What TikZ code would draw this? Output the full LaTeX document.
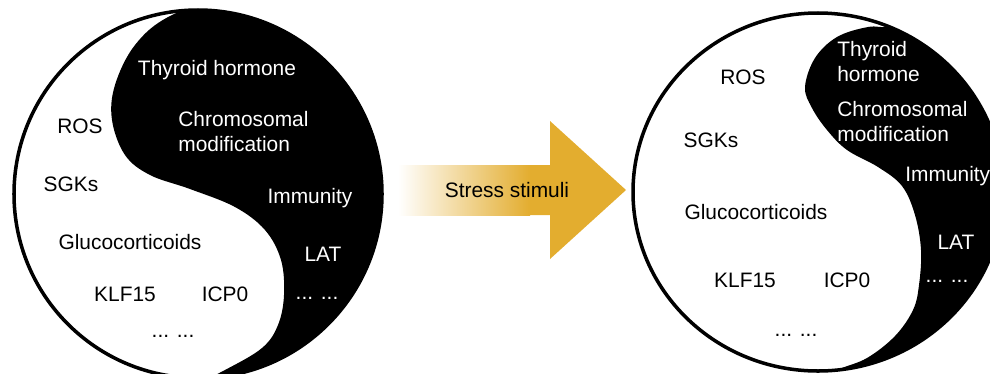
\documentclass[tikz,border=0pt]{standalone}
\usepackage{fontspec}
\setmainfont{Liberation Sans}
\usetikzlibrary{calc}
\newcommand*{\xMax}{990}
\newcommand*{\yMax}{373}
\definecolor{stress}{RGB}{227,173,47}
\tikzset{
	lbl/.style={font=\fontsize{11.9}{14.2}\selectfont,inner sep=0pt,text depth=0pt},
	onblack/.style={lbl,text=white},
	onwhite/.style={lbl,text=black},
	twoline/.style={align=left,anchor=west},
	rim/.style={line width=2pt,draw=black}
}
\begin{document}
\begin{tikzpicture}[x=0.02cm,y=-0.02cm]
%	\draw[step=50,gray,very thin,opacity=0.2] (0,0) grid (\xMax,\yMax);
\useasboundingbox (0,0) rectangle (\xMax,\yMax);

% left yin-yang
\begin{scope}
	\clip (198,194) circle (184);
	\fill[black] plot[smooth,tension=0.6] coordinates {(240,-10) (170,16) (135,45) (115,85) (112,120) (125,155) (150,175) (190,189) (235,207) (265,230) (281,260) (284,295) (278,325) (262,348) (225,370) (180,392)} -- (400,395) -- (400,-10) -- cycle;
\end{scope}
\draw[rim] (198,194) circle (184);

% right yin-yang
\begin{scope}
	\clip (818,192) ellipse [x radius=185,y radius=179];
	\fill[black] plot[smooth,tension=0.6] coordinates {(960,10) (895,26) (868,27) (837,37) (815,58) (805,87) (812,108) (827,130) (847,150) (878,167) (902,186) (915,215) (921,250) (919,285) (913,310) (895,336) (867,358) (837,370) (800,388)} -- (1010,390) -- (1010,0) -- cycle;
\end{scope}
\draw[rim] (818,192) ellipse [x radius=185,y radius=179];

% arrow
\fill[stress] (398,165) -- (550,165) -- (550,121) -- (626,190) -- (550,259) -- (550,215) -- (398,215) -- cycle;
\shade[left color=white,right color=stress] (398,165) rectangle (530,215);
\node[onwhite] (stim) at (507,190) {Stress stimuli};

% left labels
\node[onblack] (thyL) at (217,68) {Thyroid hormone};
\node[onblack,twoline] (chrL) at (178,131) {Chromosomal\\modification};
\node[onblack] (immL) at (310,196) {Immunity};
\node[onblack] (latL) at (323,254) {LAT};
\node[onblack] (etcLa) at (317,298) {... ...};
\node[onwhite] (rosL) at (80,126) {ROS};
\node[onwhite] (sgkL) at (71,184) {SGKs};
\node[onwhite] (gluL) at (130,242) {Glucocorticoids};
\node[onwhite] (klfL) at (125,294) {KLF15};
\node[onwhite] (icpL) at (225,294) {ICP0};
\node[onwhite] (etcLb) at (173,336) {... ...};

% right labels
\node[onblack,twoline] (thyR) at (837,61) {Thyroid\\hormone};
\node[onblack,twoline] (chrR) at (837,121) {Chromosomal\\modification};
\node[onblack,anchor=west] (immR) at (905,174) {Immunity};
\node[onblack] (latR) at (956,242) {LAT};
\node[onblack] (etcRa) at (947,281) {... ...};
\node[onwhite] (rosR) at (743,77) {ROS};
\node[onwhite] (sgkR) at (711,140) {SGKs};
\node[onwhite] (gluR) at (756,212) {Glucocorticoids};
\node[onwhite] (klfR) at (745,280) {KLF15};
\node[onwhite] (icpR) at (847,280) {ICP0};
\node[onwhite] (etcRb) at (796,335) {... ...};
\end{tikzpicture}
\end{document}
